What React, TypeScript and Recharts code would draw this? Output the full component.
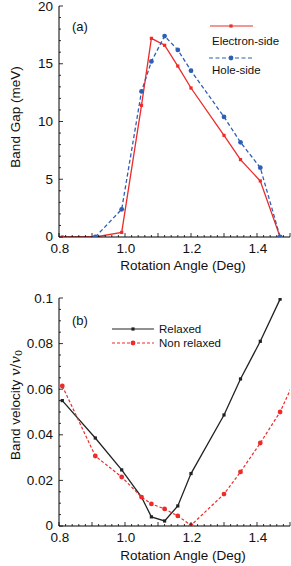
import React from "react";
import { LineChart, Line, XAxis, YAxis, Legend } from "recharts";

// ---- data ----
const angles = [0.81, 0.91, 0.99, 1.05, 1.08, 1.12, 1.16, 1.2, 1.3, 1.35, 1.41, 1.47];
const electronGap = [0, 0, 0.4, 11.4, 17.2, 16.6, 14.8, 12.9, 8.8, 6.7, 4.85, 0];
const holeGap: (number | null)[] = [null, 0, 2.4, 12.6, 15.2, 17.4, 16.2, 14.4, 10.4, 8.2, 6.0, 0];

const velAngles = [0.81, 0.91, 0.99, 1.05, 1.08, 1.12, 1.16, 1.2, 1.3, 1.35, 1.41, 1.47, 1.53];
const relaxedVel: (number | null)[] = [0.055, 0.0386, 0.0246, 0.0127, 0.004, 0.0022, 0.0088, 0.023, 0.0487, 0.0645, 0.081, 0.0995, null];
const nonRelaxedVel = [0.0614, 0.0307, 0.0215, 0.0127, 0.0097, 0.0075, 0.0044, 0.0003, 0.014, 0.0237, 0.0364, 0.05, 0.069];

const xLabelTicks = [0.8, 1.0, 1.2, 1.4];
const gapLabelTicks = [0, 5, 10, 15, 20];
const velLabelTicks = [0, 0.02, 0.04, 0.06, 0.08, 0.1];

const steps = (a: number, b: number, s: number) => {
  const n = Math.round((b - a) / s);
  return Array.from({ length: n + 1 }, (_, i) => +(a + i * s).toFixed(4));
};
const xTicks = steps(0.8, 1.5, 0.02);
const gapTicks = steps(0, 20, 1);
const velTicks = steps(0, 0.1, 0.005);

const gapData = angles.map((a, i) => ({ a, e: electronGap[i], h: holeGap[i] }));
const velData = velAngles.map((a, i) => ({ a, r: relaxedVel[i], n: nonRelaxedVel[i] }));

const FONT = "'Liberation Sans', Arial, Helvetica, sans-serif";
const RED = "#ee2a2a";
const BLUE = "#2f5fb5";
const BLACK = "#222222";

const near = (v: number, list: number[]) => list.some((t) => Math.abs(t - v) < 1e-6);
const isMult = (v: number, s: number) => Math.abs(v / s - Math.round(v / s)) < 1e-6;

const XTickBottom = (p: any) => {
  const { x, y, payload } = p;
  const v = payload.value;
  const major = isMult(v, 0.1);
  return (
    <g>
      <line x1={x} x2={x} y1={y} y2={y - (major ? 4 : 2)} stroke="#000" strokeWidth={0.8} />
      {near(v, xLabelTicks) && (
        <text x={x + 1} y={y + 11} textAnchor="middle" dominantBaseline="central" fontFamily={FONT} fontSize={13.5} fill="#111">
          {v.toFixed(1)}
        </text>
      )}
    </g>
  );
};
const XTickTop = (p: any) => {
  const { x, y, payload } = p;
  const major = isMult(payload.value, 0.1);
  return <line x1={x} x2={x} y1={y} y2={y + (major ? 4 : 2)} stroke="#000" strokeWidth={0.8} />;
};
const makeYLeft = (labels: number[], majorStep: number, fmt: (v: number) => string) => (p: any) => {
  const { x, y, payload } = p;
  const v = payload.value;
  const major = isMult(v, majorStep);
  return (
    <g>
      <line x1={x} x2={x + (major ? 4 : 2)} y1={y} y2={y} stroke="#000" strokeWidth={0.8} />
      {near(v, labels) && (
        <text x={x - 6} y={v === 0 ? y - 1 : y} textAnchor="end" dominantBaseline="central" fontFamily={FONT} fontSize={13.5} fill="#111">
          {fmt(v)}
        </text>
      )}
    </g>
  );
};
const makeYRight = (majorStep: number) => (p: any) => {
  const { x, y, payload } = p;
  const major = isMult(payload.value, majorStep);
  return <line x1={x} x2={x - (major ? 4 : 2)} y1={y} y2={y} stroke="#000" strokeWidth={0.8} />;
};

const squareDot = (color: string) => (p: any) => {
  const { cx, cy, index } = p;
  if (cx == null || cy == null) return <g key={`s${index}`} />;
  return <rect key={`s${index}`} x={cx - 1.6} y={cy - 1.6} width={3.2} height={3.2} fill={color} />;
};
const circleDot = (color: string) => (p: any) => {
  const { cx, cy, index } = p;
  if (cx == null || cy == null) return <g key={`c${index}`} />;
  return <circle key={`c${index}`} cx={cx} cy={cy} r={2.4} fill={color} />;
};

const GapLegend = () => (
  <svg width={291} height={283} style={{ position: "absolute", left: 0, top: 0, overflow: "visible" }}>
    <text x={72} y={26} dominantBaseline="central" fontFamily={FONT} fontSize={13} fill="#111">(a)</text>
    <line x1={210} x2={253} y1={26} y2={26} stroke={RED} strokeWidth={1.2} />
    <rect x={229.4} y={24.4} width={3.2} height={3.2} fill={RED} />
    <text x={212} y={41} dominantBaseline="central" fontFamily={FONT} fontSize={11.5} fill="#111">Electron-side</text>
    <line x1={209} x2={253} y1={58} y2={58} stroke={BLUE} strokeWidth={1.2} strokeDasharray="4 2.5" />
    <circle cx={231} cy={58} r={2.4} fill={BLUE} />
    <text x={212} y={70} dominantBaseline="central" fontFamily={FONT} fontSize={11.5} fill="#111">Hole-side</text>
  </svg>
);

const VelLegend = () => (
  <svg width={291} height={283} style={{ position: "absolute", left: 0, top: 0, overflow: "visible" }}>
    <text x={72} y={37} dominantBaseline="central" fontFamily={FONT} fontSize={13} fill="#111">(b)</text>
    <line x1={112} x2={154} y1={46} y2={46} stroke={BLACK} strokeWidth={1.2} />
    <rect x={131.4} y={44.4} width={3.2} height={3.2} fill={BLACK} />
    <text x={159} y={46} dominantBaseline="central" fontFamily={FONT} fontSize={11.5} fill="#111">Relaxed</text>
    <line x1={112} x2={154} y1={60} y2={60} stroke={RED} strokeWidth={1.2} strokeDasharray="3 2" />
    <circle cx={133} cy={60} r={2.4} fill={RED} />
    <text x={159} y={60} dominantBaseline="central" fontFamily={FONT} fontSize={11.5} fill="#111">Non relaxed</text>
  </svg>
);

const xLabel = (cy: number) => (props: any) => (
  <text x={183} y={props.viewBox.y + cy} textAnchor="middle" dominantBaseline="central" fontFamily={FONT} fontSize={13.5} fill="#111">
    Rotation Angle (Deg)
  </text>
);

export default function App() {
  return (
    <div style={{ width: 291, height: 566, background: "#fff", position: "relative" }}>
      <style>{"body{margin:0;}"}</style>
      <LineChart width={291} height={283} data={gapData} margin={{ top: 6, right: 1, bottom: 0, left: 0 }}>
        <XAxis xAxisId="b" dataKey="a" type="number" domain={[0.8, 1.5]} ticks={xTicks} interval={0} allowDataOverflow
          height={46} tickSize={0} tickMargin={0} tickLine={false} axisLine={{ stroke: "#000" }} tick={XTickBottom}
          label={{ content: xLabel(28) } as any} />
        <XAxis xAxisId="t" orientation="top" dataKey="a" type="number" domain={[0.8, 1.5]} ticks={xTicks} interval={0} allowDataOverflow
          height={0} tickSize={0} tickMargin={0} tickLine={false} axisLine={{ stroke: "#000" }} tick={XTickTop} />
        <YAxis yAxisId="l" type="number" domain={[0, 20]} ticks={gapTicks} interval={0} allowDataOverflow width={59}
          tickSize={0} tickMargin={0} tickLine={false} axisLine={{ stroke: "#000" }}
          tick={makeYLeft(gapLabelTicks, 5, (v) => String(v))}
          label={{ content: (p: any) => (
            <text x={15} y={117} textAnchor="middle" dominantBaseline="central" transform="rotate(-90 15 117)" fontFamily={FONT} fontSize={13.5} fill="#111">
              Band Gap (meV)
            </text>) } as any} />
        <YAxis yAxisId="r" orientation="right" type="number" domain={[0, 20]} ticks={gapTicks} interval={0} width={0}
          tickSize={0} tickMargin={0} tickLine={false} axisLine={{ stroke: "#000" }} tick={makeYRight(5)} />
        <Line xAxisId="b" yAxisId="l" type="linear" dataKey="e" stroke={RED} strokeWidth={1.3} dot={squareDot(RED)} activeDot={false} isAnimationActive={false} />
        <Line xAxisId="b" yAxisId="l" type="linear" dataKey="h" stroke={BLUE} strokeWidth={1.3} strokeDasharray="4 2.5" dot={circleDot(BLUE)} activeDot={false} isAnimationActive={false} />
        <Legend layout="horizontal" verticalAlign="middle" align="center" content={GapLegend as any}
          wrapperStyle={{ position: "absolute", left: 0, top: 0, width: 291, height: 283, pointerEvents: "none" }} />
      </LineChart>
      <LineChart width={291} height={283} data={velData} margin={{ top: 15, right: 1, bottom: 0, left: 0 }}>
        <XAxis xAxisId="b" dataKey="a" type="number" domain={[0.8, 1.5]} ticks={xTicks} interval={0} allowDataOverflow
          height={40} tickSize={0} tickMargin={0} tickLine={false} axisLine={{ stroke: "#000" }} tick={XTickBottom}
          label={{ content: xLabel(29) } as any} />
        <XAxis xAxisId="t" orientation="top" dataKey="a" type="number" domain={[0.8, 1.5]} ticks={xTicks} interval={0} allowDataOverflow
          height={0} tickSize={0} tickMargin={0} tickLine={false} axisLine={{ stroke: "#000" }} tick={XTickTop} />
        <YAxis yAxisId="l" type="number" domain={[0, 0.1]} ticks={velTicks} interval={0} allowDataOverflow width={59}
          tickSize={0} tickMargin={0} tickLine={false} axisLine={{ stroke: "#000" }}
          tick={makeYLeft(velLabelTicks, 0.02, (v) => (v === 0 ? "0" : Math.abs(v - 0.1) < 1e-9 ? "0.1" : v.toFixed(2)))}
          label={{ content: (p: any) => (
            <text x={15} y={122} textAnchor="middle" dominantBaseline="central" transform="rotate(-90 15 122)" fontFamily={FONT} fontSize={13.5} fill="#111">
              Band velocity{" "}
              <tspan fontFamily="'DejaVu Serif', 'Liberation Serif', serif" fontStyle="italic">v</tspan>
              <tspan fontFamily="'DejaVu Serif', 'Liberation Serif', serif">/</tspan>
              <tspan fontFamily="'DejaVu Serif', 'Liberation Serif', serif" fontStyle="italic">v</tspan>
              <tspan fontFamily="'DejaVu Serif', 'Liberation Serif', serif" fontSize={9.5} dy={3}>0</tspan>
            </text>) } as any} />
        <YAxis yAxisId="r" orientation="right" type="number" domain={[0, 0.1]} ticks={velTicks} interval={0} width={0}
          tickSize={0} tickMargin={0} tickLine={false} axisLine={{ stroke: "#000" }} tick={makeYRight(0.02)} />
        <Line xAxisId="b" yAxisId="l" type="linear" dataKey="r" stroke={BLACK} strokeWidth={1.3} dot={squareDot(BLACK)} activeDot={false} isAnimationActive={false} />
        <Line xAxisId="b" yAxisId="l" type="linear" dataKey="n" stroke={RED} strokeWidth={1.2} strokeDasharray="3 2" dot={circleDot(RED)} activeDot={false} isAnimationActive={false} />
        <Legend layout="horizontal" verticalAlign="middle" align="center" content={VelLegend as any}
          wrapperStyle={{ position: "absolute", left: 0, top: 0, width: 291, height: 283, pointerEvents: "none" }} />
      </LineChart>
    </div>
  );
}
